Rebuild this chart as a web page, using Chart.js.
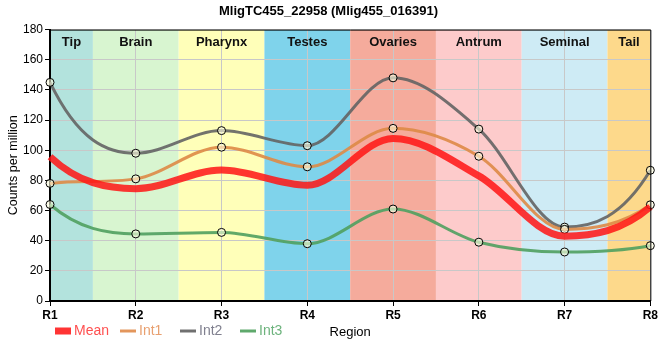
<!DOCTYPE html>
<html>
<head>
<meta charset="utf-8">
<script src="https://cdn.jsdelivr.net/npm/chart.js@4.4.1/dist/chart.umd.min.js"></script>
<style>
  html, body { margin: 0; padding: 0; background: #fff; }
  #wrap { width: 660px; height: 360px; }
</style>
</head>
<body>
<div id="wrap"><canvas id="chart" width="660" height="360"></canvas></div>
<script>
// Regions along x axis
const regions = ['R1', 'R2', 'R3', 'R4', 'R5', 'R6', 'R7', 'R8'];

// Series values
const meanVals = [95.7, 74.5, 86.8, 76.7, 107.8, 83.0, 43.0, 62.4];
const int1Vals = [78, 81, 102, 89, 114.5, 96, 47.5, 63.8];
const int2Vals = [145, 98, 113, 103, 148, 114, 49, 86.7];
const int3Vals = [64, 44.5, 45.5, 38, 61, 39, 32.5, 36.7];

// Tissue bands (in region index units)
const bandNames = ['Tip', 'Brain', 'Pharynx', 'Testes', 'Ovaries', 'Antrum', 'Seminal', 'Tail'];
const bandFrom = [0, 0.5, 1.5, 2.5, 3.5, 4.5, 5.5, 6.5];
const bandTo = [0.5, 1.5, 2.5, 3.5, 4.5, 5.5, 6.5, 7];
const bandColors = ['#b3e3dd', '#d8f5d0', '#ffffb9', '#7fd3eb', '#f5ab9c', '#fdcbcb', '#ceebf5', '#fdd98b'];

const yTicks = [0, 20, 40, 60, 80, 100, 120, 140, 160, 180];

const legendItems = [
    { text: 'Mean', color: 'rgba(255,30,30,0.9)', textColor: '#ff5050', width: 7 },
    { text: 'Int1', color: '#e3965c', textColor: '#e8a070', width: 3 },
    { text: 'Int2', color: '#707070', textColor: '#80808f', width: 3 },
    { text: 'Int3', color: '#5fa96c', textColor: '#6db37d', width: 3 }
];

const FONT = '"Liberation Sans", Arial, sans-serif';
// the curves leave the end points more steeply than plain monotone splines
const endBoost = 2.5;

const bandsPlugin = {
    id: 'bands',
    beforeDraw(chart) {
        const { ctx, chartArea, scales } = chart;
        ctx.save();
        for (let i = 0; i < bandNames.length; i++) {
            const x1 = scales.x.getPixelForValue(bandFrom[i]);
            const x2 = scales.x.getPixelForValue(bandTo[i]);
            ctx.fillStyle = bandColors[i];
            ctx.fillRect(x1, chartArea.top, x2 - x1, chartArea.bottom - chartArea.top);
        }
        ctx.restore();
    },
    beforeDatasetsDraw(chart) {
        const { ctx, chartArea, scales } = chart;
        ctx.save();
        ctx.font = 'bold 13px ' + FONT;
        ctx.fillStyle = '#111';
        ctx.textAlign = 'center';
        ctx.textBaseline = 'middle';
        for (let i = 0; i < bandNames.length; i++) {
            const x1 = scales.x.getPixelForValue(bandFrom[i]);
            const x2 = scales.x.getPixelForValue(bandTo[i]);
            ctx.fillText(bandNames[i], (x1 + x2) / 2, chartArea.top + 13);
        }
        ctx.restore();

        // steeper end segments
        chart.getSortedVisibleDatasetMetas().forEach(meta => {
            const pts = meta.data;
            const n = pts.length;
            if (n < 3) return;
            meta.dataset.updateControlPoints(chartArea, meta.indexAxis);
            pts[0].cp2y = pts[0].y + endBoost * (pts[1].y - pts[0].y) / 3;
            pts[n - 1].cp1y = pts[n - 1].y - endBoost * (pts[n - 1].y - pts[n - 2].y) / 3;
        });
    },
    afterDraw(chart) {
        const { ctx, chartArea } = chart;
        ctx.save();
        // thin frame top/right
        ctx.strokeStyle = '#000';
        ctx.lineWidth = 1;
        ctx.beginPath();
        ctx.moveTo(chartArea.left, chartArea.top + 0.5);
        ctx.lineTo(chartArea.right + 0.5, chartArea.top + 0.5);
        ctx.lineTo(chartArea.right + 0.5, chartArea.bottom);
        ctx.stroke();

        // legend on the same row as the axis title
        const y = 331;
        let x = 55;
        ctx.font = '14px ' + FONT;
        ctx.textBaseline = 'middle';
        ctx.textAlign = 'left';
        legendItems.forEach(item => {
            ctx.strokeStyle = item.color;
            ctx.lineWidth = item.width;
            ctx.lineCap = 'butt';
            ctx.beginPath();
            ctx.moveTo(x, y);
            ctx.lineTo(x + 16, y);
            ctx.stroke();
            ctx.fillStyle = item.textColor;
            ctx.fillText(item.text, x + 19, y);
            x += Math.max(60, 19 + ctx.measureText(item.text).width + 11);
        });
        ctx.restore();
    }
};

const pointFill = 'rgba(255,255,225,0.6)';

function intSeries(label, data, color) {
    return {
        label, data,
        borderColor: color, borderWidth: 3,
        pointRadius: 4, pointBorderColor: '#000', pointBorderWidth: 1,
        pointBackgroundColor: pointFill, cubicInterpolationMode: 'monotone'
    };
}

const ctx = document.getElementById('chart').getContext('2d');
new Chart(ctx, {
    type: 'line',
    data: {
        labels: regions,
        datasets: [
            {
                label: 'Mean', data: meanVals,
                borderColor: 'rgba(255,20,20,0.85)', borderWidth: 7,
                pointRadius: 0, cubicInterpolationMode: 'monotone'
            },
            intSeries('Int1', int1Vals, 'rgba(222,138,70,0.9)'),
            intSeries('Int2', int2Vals, 'rgba(100,100,100,0.9)'),
            intSeries('Int3', int3Vals, 'rgba(80,160,95,0.9)')
        ]
    },
    options: {
        responsive: false,
        animation: false,
        layout: { padding: { left: 6, right: 9, top: 0, bottom: 20 } },
        plugins: {
            legend: { display: false },
            tooltip: { enabled: false },
            title: {
                display: true,
                text: 'MligTC455_22958 (Mlig455_016391)',
                color: '#000',
                font: { family: FONT, size: 13, weight: 'bold' },
                padding: { top: 4, bottom: 10 }
            }
        },
        scales: {
            x: {
                type: 'category',
                offset: false,
                grid: { color: '#c8c8c8', lineWidth: 1, tickLength: 5, tickColor: '#000' },
                border: { color: '#000', width: 2 },
                ticks: {
                    color: '#000', padding: 2, maxRotation: 0, autoSkip: false,
                    font: { family: FONT, size: 12, weight: 'bold' }
                },
                title: {
                    display: true, text: 'Region', color: '#000',
                    font: { family: FONT, size: 13 },
                    padding: { top: 0, bottom: 0 }
                }
            },
            y: {
                min: 0, max: 180,
                afterBuildTicks(scale) { scale.ticks = yTicks.map(v => ({ value: v })); },
                grid: { color: '#c8c8c8', lineWidth: 1, tickLength: 5, tickColor: '#000' },
                border: { color: '#000', width: 2 },
                ticks: {
                    color: '#000', padding: 2,
                    font: { family: FONT, size: 12 }
                },
                title: {
                    display: true, text: 'Counts per million', color: '#000',
                    font: { family: FONT, size: 12.5 },
                    padding: { top: 0, bottom: 0 }
                }
            }
        }
    },
    plugins: [bandsPlugin]
});
</script>
</body>
</html>
